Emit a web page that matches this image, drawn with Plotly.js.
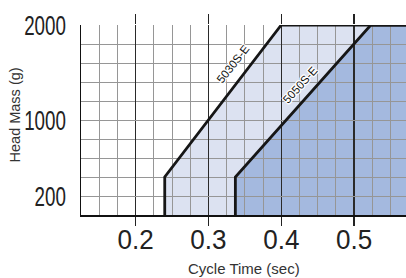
<!DOCTYPE html>
<html><head><meta charset="utf-8">
<script src="https://cdn.plot.ly/plotly-3.0.1.min.js"></script>
<style>html,body{margin:0;padding:0;background:#fff;overflow:hidden}</style>
</head><body><div id="chart" style="width:406px;height:278px"></div>
<script>
// ---- data ----
const seriesNames = ['5030S-E', '5050S-E'];
const cycleTime5030 = [0.24, 0.24, 0.40, 0.60];
const headMass5030 = [0, 400, 2000, 2000];
const cycleTime5050 = [0.337, 0.337, 0.523, 0.60];
const headMass5050 = [0, 400, 2000, 2000];
const xTickVals = [0.2, 0.3, 0.4, 0.5];
const xTickText = ['0.2', '0.3', '0.4', '0.5'];
const yTickVals = [200, 1000, 2000];
const yTickText = ['200', '1000', '2000'];

// ---- layout constants ----
const xRange = [0.125, 0.5713];
const yRange = [0, 2000];
const fillColors = ['#dce2f1', '#a4b9df'];
const outline = '#161616';
const gridGray = '#969696';
const sans = 'Liberation Sans, Arial, sans-serif';
const halo = 'white 1px 1px 0px, white -1px -1px 0px, white 1px -1px 0px, white -1px 1px 0px, white 0px 1px 0px, white 0px -1px 0px, white 1px 0px 0px, white -1px 0px 0px';

const xs = [cycleTime5030, cycleTime5050];
const ys = [headMass5030, headMass5050];

const traces = [];
// fills (subplot 1, drawn below the grid of subplot 2)
for (let i = 0; i < 2; i++) {
  traces.push({
    x: xs[i], y: ys[i], type: 'scatter', mode: 'lines', fill: 'tozeroy',
    fillcolor: fillColors[i], line: {width: 0, color: fillColors[i]},
    xaxis: 'x', yaxis: 'y', hoverinfo: 'skip', showlegend: false
  });
}
// outlines (subplot 2, above the grid)
for (let i = 0; i < 2; i++) {
  traces.push({
    x: xs[i], y: ys[i], type: 'scatter', mode: 'lines', name: seriesNames[i],
    line: {width: 2.8, color: outline}, xaxis: 'x2', yaxis: 'y2',
    hoverinfo: 'skip', showlegend: false
  });
}

const labelPos = [{x: 0.334, y: 1585, a: -52}, {x: 0.426, y: 1365, a: -48}];

const layout = {
  width: 406, height: 278,
  margin: {l: 81, r: 0, t: 25, b: 63},
  paper_bgcolor: '#fff', plot_bgcolor: 'rgba(0,0,0,0)',
  showlegend: false,
  xaxis: {
    domain: [0, 1], range: xRange, anchor: 'y', side: 'top',
    showgrid: false, showline: false, zeroline: false,
    ticks: 'outside', ticklen: 10, tickwidth: 1.2, tickcolor: '#222',
    tickvals: xTickVals, showticklabels: false, fixedrange: true
  },
  yaxis: {domain: [0, 1], range: yRange, anchor: 'x', visible: false, fixedrange: true},
  xaxis2: {
    domain: [0, 1], range: xRange, anchor: 'y2',
    showline: true, linecolor: '#111', linewidth: 1.5, zeroline: false,
    ticks: 'outside', ticklen: 9, tickwidth: 1.2, tickcolor: '#222',
    tickvals: xTickVals, ticktext: xTickText,
    showgrid: true, gridcolor: '#2a2a2a', gridwidth: 1.2,
    minor: {dtick: 0.025, tick0: 0, showgrid: true, gridcolor: gridGray, gridwidth: 1, ticks: ''},
    tickfont: {family: sans, size: 28, color: '#222'},
    ticklabelstandoff: -10,
    fixedrange: true
  },
  yaxis2: {
    domain: [0, 1], range: yRange, anchor: 'x2',
    showline: true, linecolor: '#111', linewidth: 1.5, zeroline: false,
    ticks: '', tickvals: yTickVals, ticktext: yTickText,
    showgrid: true, gridcolor: gridGray, gridwidth: 1,
    minor: {dtick: 200, tick0: 0, showgrid: true, gridcolor: gridGray, gridwidth: 1, ticks: ''},
    tickfont: {family: sans, size: 28, color: '#222'},
    ticklabelstandoff: 8,
    fixedrange: true
  },
  annotations: seriesNames.map((n, i) => ({
    x: labelPos[i].x, y: labelPos[i].y, xref: 'x2', yref: 'y2',
    xanchor: 'center', yanchor: 'middle',
    text: n, showarrow: false, textangle: labelPos[i].a,
    font: {family: sans, size: 11.5, color: '#111', shadow: halo}
  })).concat([
    {text: 'Head Mass (g)', xref: 'paper', yref: 'paper', x: -0.203, y: 0.524,
     xanchor: 'center', yanchor: 'middle',
     textangle: -90, showarrow: false, font: {family: sans, size: 14.5, color: '#333'}},
    {text: 'Cycle Time (sec)', xref: 'paper', yref: 'paper', x: 0.5015, y: -0.279,
     xanchor: 'center', yanchor: 'middle',
     showarrow: false, font: {family: sans, size: 15, color: '#333'}}
  ])
};

function squeeze(sel, factor) {
  document.querySelectorAll(sel).forEach(el => {
    const w = el.getComputedTextLength();
    el.setAttribute('textLength', w * factor);
    el.setAttribute('lengthAdjust', 'spacingAndGlyphs');
  });
}

Plotly.newPlot('chart', traces, layout, {displayModeBar: false, staticPlot: true}).then(() => {
  squeeze('g.y2tick text', 0.67);
  squeeze('g.x2tick text', 0.93);
});
</script></body></html>
